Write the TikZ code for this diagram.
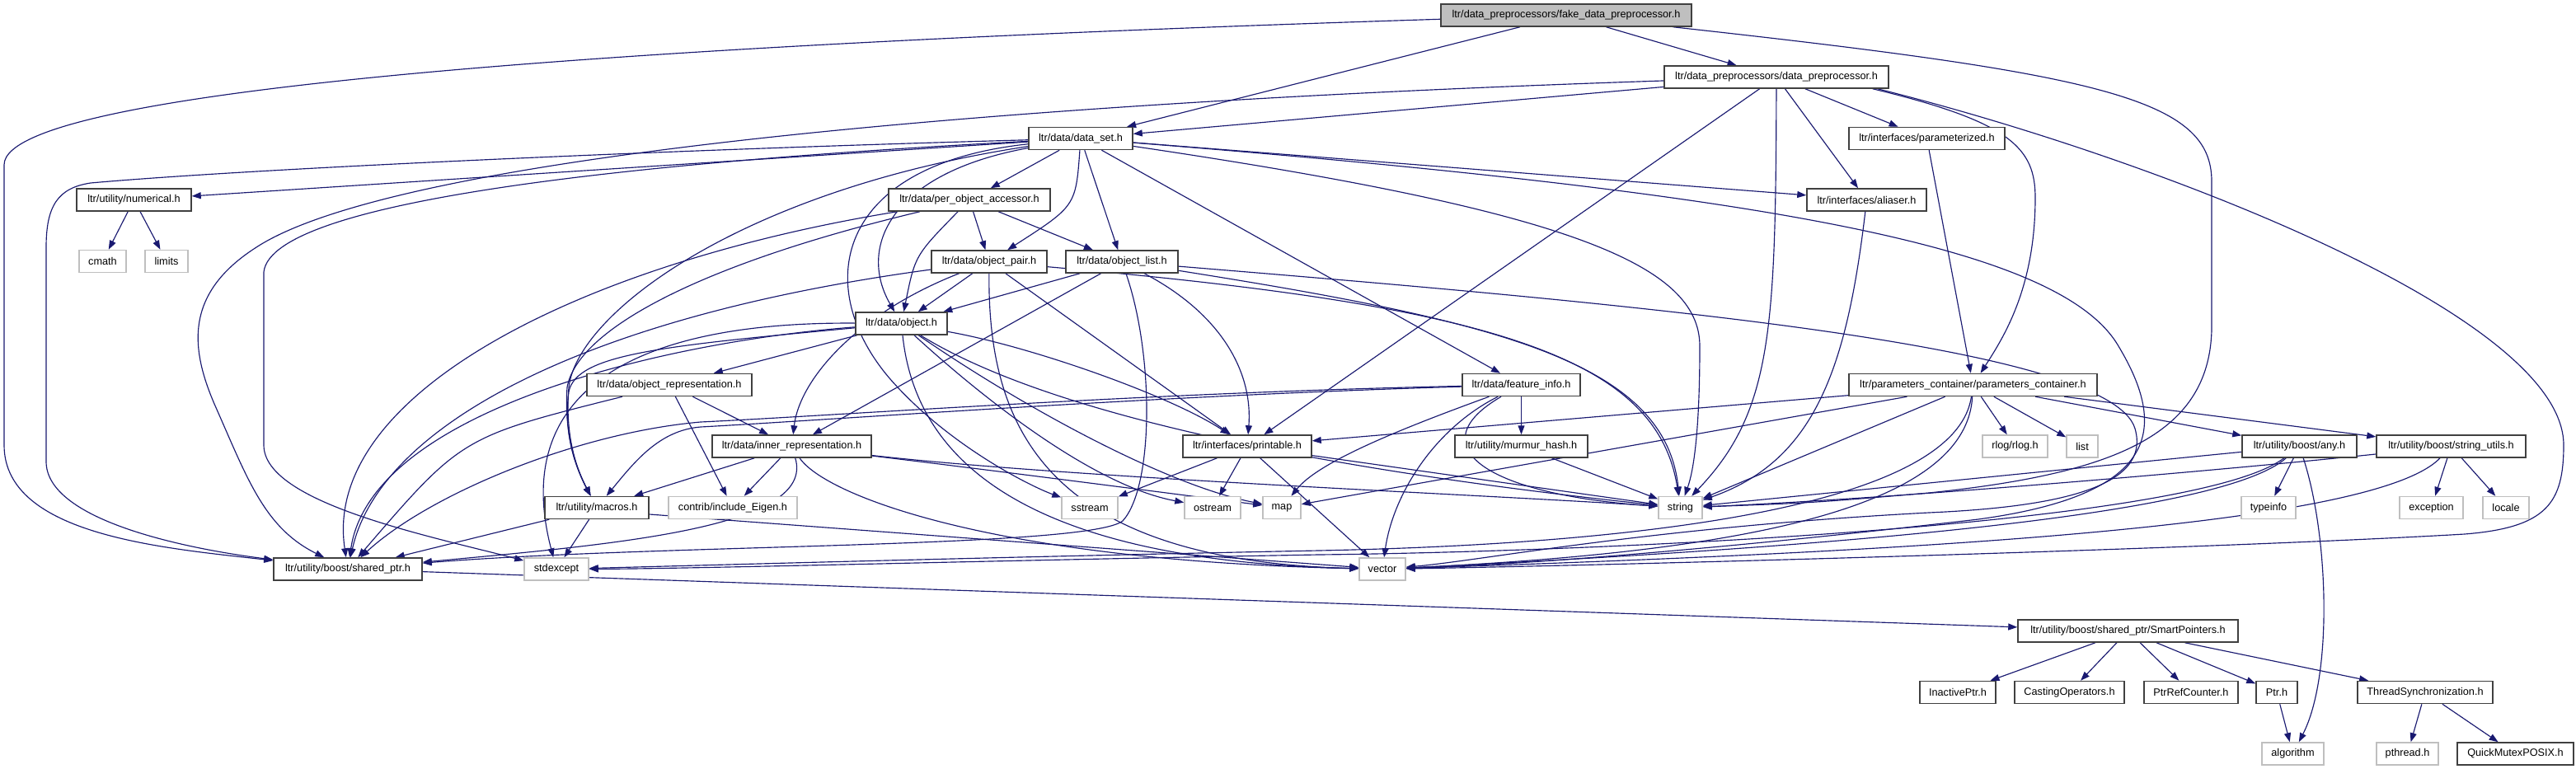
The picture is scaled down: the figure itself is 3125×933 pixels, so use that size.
\documentclass[tikz,border=0pt]{standalone}
\usepackage{fontspec}
\newfontfamily\dxfont{Liberation Sans}
\usetikzlibrary{arrows.meta,backgrounds}
\definecolor{edgeblue}{RGB}{25,25,112}
\definecolor{pborder}{RGB}{64,64,64}
\definecolor{sborder}{RGB}{191,191,191}
\definecolor{rootfill}{RGB}{191,191,191}
\tikzset{
  pnode/.style={draw=pborder, line width=1.5pt, fill=white, minimum height=27pt, inner sep=0pt, font=\dxfont\fontsize{12.7}{15}\selectfont},
  snode/.style={pnode, draw=sborder},
  rootnode/.style={pnode, fill=rootfill},
  dep/.style={draw=edgeblue, line width=1.15pt, -{Triangle[length=11pt,width=8pt]}}
}
\begin{document}
\begin{tikzpicture}[x=1pt,y=-1pt]
\useasboundingbox (0,0) rectangle (3125,933);
% ---------- nodes ----------
\node[rootnode, minimum width=304pt] (F) at (1900,18.5) {ltr/data\_preprocessors/fake\_data\_preprocessor.h};
\node[pnode, minimum width=272pt] (DP) at (2155,93.5) {ltr/data\_preprocessors/data\_preprocessor.h};
\node[pnode, minimum width=126pt] (DS) at (1311,168) {ltr/data/data\_set.h};
\node[pnode, minimum width=189pt] (PZ) at (2337.5,168) {ltr/interfaces/parameterized.h};
\node[pnode, minimum width=139pt] (NUM) at (162.5,242.5) {ltr/utility/numerical.h};
\node[pnode, minimum width=196pt] (POA) at (1176,242.5) {ltr/data/per\_object\_accessor.h};
\node[pnode, minimum width=145pt] (AL) at (2264.5,242.5) {ltr/interfaces/aliaser.h};
\node[snode, minimum width=57pt] (CMATH) at (124.5,317) {cmath};
\node[snode, minimum width=52pt] (LIMITS) at (202,317) {limits};
\node[pnode, minimum width=140pt] (OP) at (1200,317.5) {ltr/data/object\_pair.h};
\node[pnode, minimum width=136pt] (OL) at (1361,317.5) {ltr/data/object\_list.h};
\node[pnode, minimum width=111pt] (OBJ) at (1093.5,392.5) {ltr/data/object.h};
\node[pnode, minimum width=200pt] (OREP) at (812,467) {ltr/data/object\_representation.h};
\node[pnode, minimum width=143pt] (FI) at (1845.5,467) {ltr/data/feature\_info.h};
\node[pnode, minimum width=301pt] (PC) at (2393.5,467) {ltr/parameters\_container/parameters\_container.h};
\node[pnode, minimum width=193pt] (IR) at (960.5,541.5) {ltr/data/inner\_representation.h};
\node[pnode, minimum width=156pt] (PR) at (1513,541.5) {ltr/interfaces/printable.h};
\node[pnode, minimum width=161pt] (MUR) at (1845.5,541.5) {ltr/utility/murmur\_hash.h};
\node[snode, minimum width=79pt] (RLOG) at (2444.5,541.5) {rlog/rlog.h};
\node[snode, minimum width=38pt] (LIST) at (2526,541.5) {list};
\node[pnode, minimum width=139pt] (ANY) at (2789.5,541.5) {ltr/utility/boost/any.h};
\node[pnode, minimum width=181pt] (SU) at (2973.5,541.5) {ltr/utility/boost/string\_utils.h};
\node[pnode, minimum width=126pt] (MAC) at (724,616) {ltr/utility/macros.h};
\node[snode, minimum width=156pt] (EIG) at (889,616) {contrib/include\_Eigen.h};
\node[snode, minimum width=68pt] (SS) at (1322,616) {sstream};
\node[snode, minimum width=68pt] (OS) at (1471,616) {ostream};
\node[snode, minimum width=46pt] (MAP) at (1555,616) {map};
\node[snode, minimum width=53pt] (STR) at (2038.5,616) {string};
\node[snode, minimum width=66pt] (TYPEINFO) at (2752,616) {typeinfo};
\node[snode, minimum width=77pt] (EXC) at (2949.5,616) {exception};
\node[snode, minimum width=56pt] (LOCALE) at (3040,616) {locale};
\node[pnode, minimum width=180pt] (SP) at (422,690.5) {ltr/utility/boost/shared\_ptr.h};
\node[snode, minimum width=78pt] (SE) at (675,690.5) {stdexcept};
\node[snode, minimum width=56pt] (VEC) at (1677,690.5) {vector};
\node[pnode, minimum width=267pt] (SMP) at (2581.5,765.5) {ltr/utility/boost/shared\_ptr/SmartPointers.h};
\node[pnode, minimum width=92pt] (INA) at (2375,840) {InactivePtr.h};
\node[pnode, minimum width=133pt] (CAST) at (2510.5,840) {CastingOperators.h};
\node[pnode, minimum width=114pt] (PRC) at (2658,840) {PtrRefCounter.h};
\node[pnode, minimum width=50pt] (PTR) at (2762,840) {Ptr.h};
\node[pnode, minimum width=164pt] (TS) at (2942,840) {ThreadSynchronization.h};
\node[snode, minimum width=75pt] (ALGO) at (2781.5,914.5) {algorithm};
\node[snode, minimum width=75pt] (PTHR) at (2920.5,914.5) {pthread.h};
\node[pnode, minimum width=141pt] (QM) at (3051.5,914.5) {QuickMutexPOSIX.h};
% ---------- edges ----------
\begin{scope}[on background layer]
% F
\draw[dep] (F) -- (DP);
\draw[dep] (F) -- (DS);
\draw[dep] (F) .. controls (900,50) and (5,100) .. (5,200) -- (5,540) .. controls (5,650) and (200,665) .. (SP);
\draw[dep] (F) .. controls (2550,90) and (2683,120) .. (2683,220) -- (2683,400) .. controls (2680,530) and (2560,575) .. (2340,598) .. controls (2200,610) .. (STR);
% DP
\draw[dep] (DP) -- (DS);
\draw[dep] (DP) .. controls (1200,125) and (480,190) .. (311,300) .. controls (225,355) and (230,420) .. (260,490) .. controls (300,580) and (320,640) .. (SP);
\draw[dep] (DP) -- (PR);
\draw[dep] (DP) .. controls (2154,400) and (2150,500) .. (STR);
\draw[dep] (DP) -- (AL);
\draw[dep] (DP) -- (PZ);
\draw[dep] ([xshift=-20pt]DP.south east) .. controls (2440,148) and (2469,180) .. (2469,240) .. controls (2469,350) and (2430,410) .. (PC);
\draw[dep] ([xshift=-14pt]DP.south east) .. controls (2600,188) and (3110,380) .. (3110,540) .. controls (3110,610) and (3090,640) .. (2990,648) .. controls (2700,665) and (2000,685) .. (VEC);
% DS
\draw[dep] (DS) -- (NUM);
\draw[dep] (DS) .. controls (800,182) and (300,205) .. (110,222) .. controls (70,228) and (56,250) .. (56,300) -- (56,560) .. controls (56,630) and (220,665) .. (SP);
\draw[dep] (DS) .. controls (800,195) and (330,240) .. (320,330) -- (320,540) .. controls (320,610) and (520,650) .. (SE);
\draw[dep] (DS) -- (POA);
\draw[dep] (DS) .. controls (1305,250) .. (OP);
\draw[dep] (DS) -- (OL);
\draw[dep] (DS) -- (FI);
\draw[dep] (DS) .. controls (1080,210) and (1040,300) .. (OBJ);
\draw[dep] (DS) .. controls (1010,200) and (985,350) .. (1080,460) .. controls (1150,540) and (1250,590) .. (SS);
\draw[dep] (DS) .. controls (900,230) and (700,380) .. (690,470) .. controls (685,530) and (700,570) .. (MAC);
\draw[dep] (DS) -- (AL);
\draw[dep] (DS) .. controls (1900,255) and (2062,320) .. (2062,420) .. controls (2062,520) and (2055,570) .. (STR);
\draw[dep] (DS) .. controls (2150,235) and (2500,300) .. (2570,420) .. controls (2630,520) and (2620,600) .. (2400,630) .. controls (2100,665) and (1850,685) .. (VEC);
% NUM
\draw[dep] (NUM) -- (CMATH);
\draw[dep] (NUM) -- (LIMITS);
% POA
\draw[dep] (POA) .. controls (700,320) and (390,480) .. (SP);
\draw[dep] (POA) .. controls (850,320) and (700,400) .. (688,470) .. controls (684,530) and (700,570) .. (MAC);
\draw[dep] (POA) .. controls (1110,310) .. (OBJ);
\draw[dep] (POA) -- (OP);
\draw[dep] (POA) -- (OL);
% OP
\draw[dep] (OP) -- (OBJ);
\draw[dep] (OP) .. controls (1198,520) and (1270,680) .. (VEC);
\draw[dep] (OP) -- (PR);
\draw[dep] (OP) .. controls (1800,370) and (2010,430) .. (STR);
\draw[dep] (OP) .. controls (1040,380) and (970,460) .. (IR);
\draw[dep] (OP) .. controls (700,385) and (460,520) .. (SP);
% OL
\draw[dep] (OL) -- (OBJ);
\draw[dep] (OL) -- (IR);
\draw[dep] (OL) .. controls (1480,380) and (1520,450) .. (PR);
\draw[dep] (OL) .. controls (1820,390) and (2020,440) .. (STR);
\draw[dep] (OL) .. controls (1400,430) and (1400,590) .. (1362,632) .. controls (1320,665) and (800,660) .. (SP);
\draw[dep] (OL) .. controls (2000,370) and (2560,420) .. (2590,520) .. controls (2610,590) and (2500,615) .. (2340,622) .. controls (2000,640) and (1800,680) .. (VEC);
% OBJ
\draw[dep] (OBJ) -- (OREP);
\draw[dep] (OBJ) .. controls (1250,420) and (1420,480) .. (PR);
\draw[dep] (OBJ) .. controls (800,415) and (450,500) .. (SP);
\draw[dep] (OBJ) .. controls (800,420) and (700,430) .. (690,475) .. controls (683,530) and (700,570) .. (MAC);
\draw[dep] (OBJ) .. controls (1200,490) and (1330,590) .. (OS);
\draw[dep] (OBJ) .. controls (1250,500) and (1420,590) .. (MAP);
\draw[dep] (OBJ) .. controls (1300,520) and (1700,580) .. (STR);
\draw[dep] (OBJ) .. controls (1110,550) and (1230,680) .. (VEC);
\draw[dep] (OBJ) .. controls (760,390) and (620,480) .. (SE);
% OREP
\draw[dep] (OREP) -- (IR);
\draw[dep] (OREP) -- (EIG);
\draw[dep] (OREP) .. controls (560,530) .. (SP);
% IR
\draw[dep] (IR) -- (MAC);
\draw[dep] (IR) -- (EIG);
\draw[dep] (IR) .. controls (990,640) and (750,660) .. (SP);
\draw[dep] (IR) .. controls (1200,570) and (1430,600) .. (MAP);
\draw[dep] (IR) .. controls (1300,580) and (1800,600) .. (STR);
\draw[dep] (IR) .. controls (1000,600) and (1200,680) .. (VEC);
% FI
\draw[dep] (FI) -- (MUR);
\draw[dep] (FI) .. controls (1700,520) and (1600,560) .. (MAP);
\draw[dep] (FI) .. controls (1740,520) and (1690,600) .. (VEC);
\draw[dep] (FI) .. controls (1720,540) and (1800,600) .. (STR);
\draw[dep] (FI) .. controls (1400,480) and (1000,510) .. (850,518) .. controls (800,522) and (770,560) .. (MAC);
\draw[dep] (FI) .. controls (1400,476) and (1000,505) .. (850,512) .. controls (700,525) and (520,600) .. (SP);
% PR
\draw[dep] (PR) -- (SS);
\draw[dep] (PR) -- (OS);
\draw[dep] (PR) -- (VEC);
\draw[dep] (PR) -- (STR);
% MUR, AL, PZ
\draw[dep] (MUR) -- (STR);
\draw[dep] (AL) .. controls (2240,450) and (2200,560) .. (STR);
\draw[dep] (PZ) -- (PC);
% PC
\draw[dep] (PC) -- (PR);
\draw[dep] (PC) -- (MAP);
\draw[dep] (PC) -- (STR);
\draw[dep] (PC) .. controls (2385,620) and (2100,670) .. (VEC);
\draw[dep] (PC) .. controls (2370,630) and (1900,662) .. (1600,668) .. controls (1200,676) and (850,686) .. (SE);
\draw[dep] (PC) -- (RLOG);
\draw[dep] (PC) -- (LIST);
\draw[dep] (PC) -- (ANY);
\draw[dep] (PC) -- (SU);
% ANY
\draw[dep] (ANY) -- (TYPEINFO);
\draw[dep] (ANY) .. controls (2825,650) and (2830,820) .. (ALGO);
\draw[dep] (ANY) .. controls (2600,560) and (2200,600) .. (STR);
\draw[dep] (ANY) .. controls (2700,620) and (2300,660) .. (VEC);
\draw[dep] (ANY) .. controls (2660,640) and (1900,670) .. (1600,673) .. controls (1200,680) and (850,690) .. (SE);
% SU
\draw[dep] (SU) -- (EXC);
\draw[dep] (SU) -- (LOCALE);
\draw[dep] (SU) .. controls (2700,570) and (2300,605) .. (STR);
\draw[dep] (SU) .. controls (2880,640) and (2300,670) .. (VEC);
% MAC
\draw[dep] (MAC) -- (SP);
\draw[dep] (MAC) -- (SE);
\draw[dep] ([yshift=-8pt]MAC.east) -- (VEC);
% shared_ptr and below
\draw[dep] (SP) -- (SMP);
\draw[dep] (SMP) -- (INA);
\draw[dep] (SMP) -- (CAST);
\draw[dep] (SMP) -- (PRC);
\draw[dep] (SMP) -- (PTR);
\draw[dep] (SMP) -- (TS);
\draw[dep] (PTR) -- (ALGO);
\draw[dep] (TS) -- (PTHR);
\draw[dep] (TS) -- (QM);
\end{scope}
\end{tikzpicture}
\end{document}
